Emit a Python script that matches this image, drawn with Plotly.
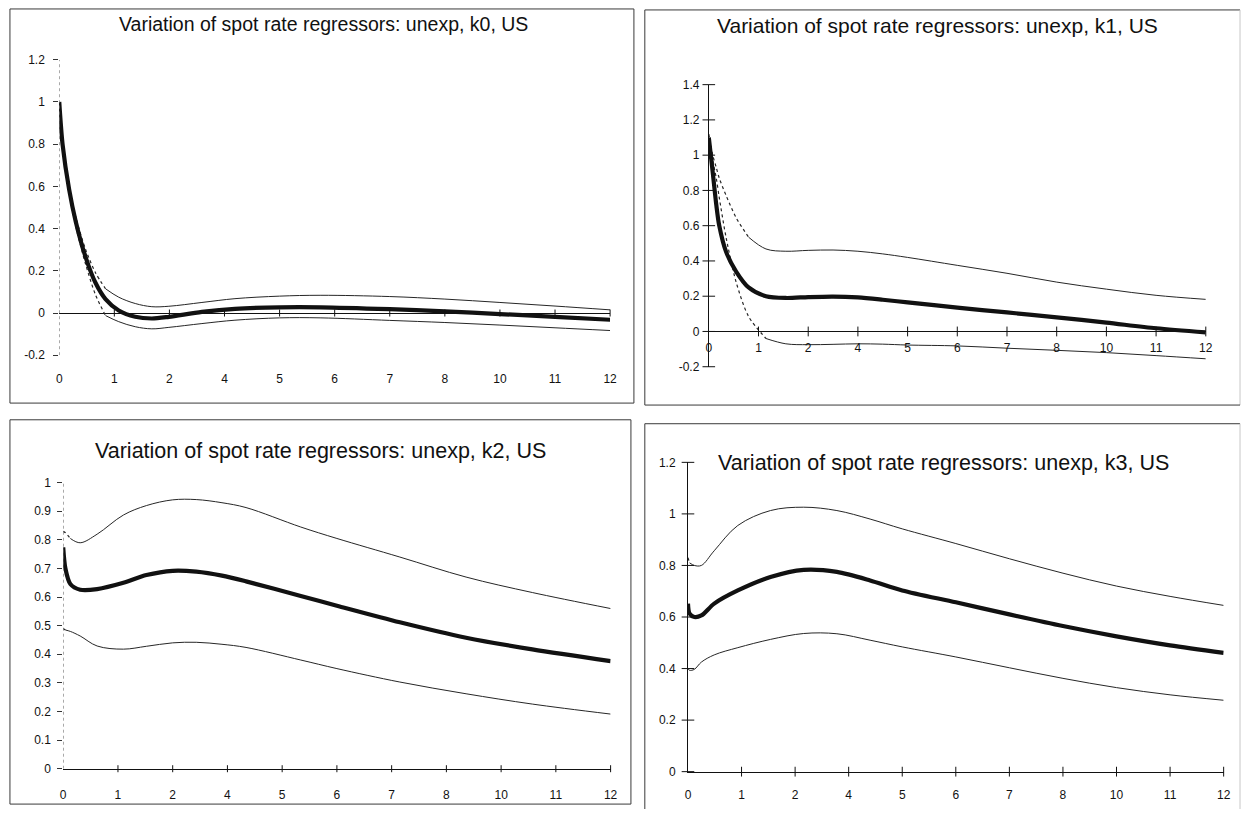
import plotly.graph_objects as go

W, H = 1249, 816

# ---------------- data ----------------
X_TICK_POS = [0, 1, 2, 3, 4, 5, 6, 7, 8, 9, 10]
X_TICK_TEXT = ["0", "1", "2", "4", "5", "6", "7", "8", "10", "11", "12"]

TITLES = [
    "Variation of spot rate regressors: unexp, k0, US",
    "Variation of spot rate regressors: unexp, k1, US",
    "Variation of spot rate regressors: unexp, k2, US",
    "Variation of spot rate regressors: unexp, k3, US",
]

K0_YTICKS = [-0.2, 0, 0.2, 0.4, 0.6, 0.8, 1, 1.2]
K1_YTICKS = [-0.2, 0, 0.2, 0.4, 0.6, 0.8, 1, 1.2, 1.4]
K2_YTICKS = [0, 0.1, 0.2, 0.3, 0.4, 0.5, 0.6, 0.7, 0.8, 0.9, 1]
K3_YTICKS = [0, 0.2, 0.4, 0.6, 0.8, 1, 1.2]

K0_X = [0, 0.06, 0.18, 0.30, 0.48, 0.66, 0.84, 1.08, 1.38, 1.68, 1.99, 2.59, 3.19, 4.0, 4.75, 6, 7, 8, 9, 10]
K0_EST = [1.0, 0.80, 0.585, 0.433, 0.264, 0.142, 0.066, 0.012, -0.018, -0.026, -0.018, 0.005, 0.02, 0.027, 0.027, 0.018, 0.008, -0.005, -0.018, -0.032]
K0_UPPER = [1.0, 0.81, 0.60, 0.455, 0.30, 0.19, 0.115, 0.075, 0.045, 0.03, 0.032, 0.05, 0.068, 0.08, 0.084, 0.078, 0.066, 0.05, 0.033, 0.015]
K0_LOWER = [1.0, 0.79, 0.57, 0.41, 0.23, 0.085, -0.012, -0.041, -0.065, -0.075, -0.068, -0.05, -0.034, -0.023, -0.023, -0.035, -0.045, -0.057, -0.07, -0.083]

K1_X = [0, 0.08, 0.15, 0.21, 0.35, 0.55, 0.8, 1.15, 1.55, 2.0, 2.5, 3.0, 3.5, 4.0, 5.0, 6.0, 7.0, 8.0, 9.0, 10.0]
K1_EST = [1.10, 0.90, 0.72, 0.60, 0.45, 0.34, 0.25, 0.20, 0.19, 0.195, 0.198, 0.193, 0.18, 0.165, 0.135, 0.108, 0.08, 0.05, 0.018, -0.005]
K1_UPPER = [1.12, 1.0, 0.93, 0.87, 0.77, 0.645, 0.535, 0.468, 0.455, 0.46, 0.462, 0.455, 0.44, 0.42, 0.375, 0.33, 0.28, 0.24, 0.205, 0.182]
K1_LOWER = [1.10, 0.97, 0.87, 0.76, 0.53, 0.28, 0.085, -0.04, -0.07, -0.075, -0.073, -0.07, -0.072, -0.077, -0.082, -0.095, -0.107, -0.12, -0.137, -0.155]

K2_X = [0, 0.04, 0.13, 0.31, 0.62, 1.1, 1.52, 2.0, 2.43, 2.9, 3.34, 4.34, 5, 6.15, 7.36, 8.57, 10]
K2_EST = [0.774, 0.70, 0.646, 0.626, 0.628, 0.65, 0.677, 0.692, 0.689, 0.675, 0.655, 0.604, 0.57, 0.512, 0.458, 0.417, 0.376]
K2_UPPER = [0.83, 0.825, 0.805, 0.79, 0.82, 0.887, 0.92, 0.94, 0.941, 0.93, 0.913, 0.845, 0.805, 0.74, 0.67, 0.616, 0.56]
K2_LOWER = [0.49, 0.485, 0.48, 0.464, 0.429, 0.418, 0.428, 0.44, 0.442, 0.435, 0.424, 0.38, 0.35, 0.303, 0.262, 0.226, 0.191]

K3_X = [0, 0.03, 0.12, 0.25, 0.49, 0.93, 1.54, 2.16, 2.78, 3.4, 4.0, 5.0, 6, 7, 8, 9, 10]
K3_EST = [0.652, 0.613, 0.60, 0.606, 0.652, 0.703, 0.755, 0.783, 0.775, 0.742, 0.703, 0.657, 0.61, 0.565, 0.525, 0.49, 0.461]
K3_UPPER = [0.83, 0.81, 0.80, 0.80, 0.857, 0.955, 1.013, 1.026, 1.013, 0.98, 0.942, 0.885, 0.826, 0.77, 0.72, 0.68, 0.645]
K3_LOWER = [0.40, 0.393, 0.397, 0.425, 0.453, 0.481, 0.513, 0.536, 0.535, 0.51, 0.484, 0.445, 0.403, 0.362, 0.326, 0.298, 0.277]

# ---------------- layout config (pixels) ----------------
# frame = (left, top, right, bottom, draw_right, draw_bottom)
PANELS = [
    dict(x=K0_X, est=K0_EST, up=K0_UPPER, lo=K0_LOWER, yt=K0_YTICKS, yr=(-0.2, 1.2),
         px0=56.7, px10=612.0, pytop=53.7, pybot=354.3, frame=(7, 2, 636, 403, True, True),
         title_xy=(323, 17), tsize=19.5, kind="open", up_cut=6, lo_cut=6, xstand=15, ystand=6),
    dict(x=K1_X, est=K1_EST, up=K1_UPPER, lo=K1_LOWER, yt=K1_YTICKS, yr=(-0.2, 1.4),
         px0=711.5, px10=1212.5, pytop=79.0, pybot=366.0, frame=(647, 3, 1247, 405, False, True),
         title_xy=(942, 19), tsize=21.0, kind="cross", up_cut=6, lo_cut=7, xstand=5, ystand=6),
    dict(x=K2_X, est=K2_EST, up=K2_UPPER, lo=K2_LOWER, yt=K2_YTICKS, yr=(0, 1),
         px0=60.7, px10=612.5, pytop=484.0, pybot=775.0, frame=(7, 420, 633, 811, True, True),
         title_xy=(320, 452), tsize=21.5, kind="open", up_cut=2, lo_cut=1, xstand=15, ystand=4),
    dict(x=K3_X, est=K3_EST, up=K3_UPPER, lo=K3_LOWER, yt=K3_YTICKS, yr=(0, 1.2),
         px0=690.5, px10=1230.5, pytop=463.3, pybot=778.0, frame=(647, 424, 1247, 816, False, False),
         title_xy=(948, 464), tsize=21.5, kind="cross", up_cut=1, lo_cut=0, xstand=12, ystand=9),
]

INK = "#111111"
THIN = "#262626"
FRAME = "#3a3a3a"
FAINT = "#c8c8c8"
FONT = "Liberation Sans, Arial, sans-serif"

fig = go.Figure()
layout = dict(width=W, height=H, margin=dict(l=0, r=0, t=0, b=0),
              paper_bgcolor="white", plot_bgcolor="white", showlegend=False,
              font=dict(family=FONT, color=INK))
shapes, annotations = [], []


def fmt(v):
    return f"{round(v, 2):g}"


def pline(x0, y0, x1, y1, color):
    return dict(type="line", xref="paper", yref="paper",
                x0=x0 / W, x1=x1 / W, y0=1 - y0 / H, y1=1 - y1 / H,
                line=dict(color=color, width=1))


for i, P in enumerate(PANELS, start=1):
    xa, ya = f"x{i}", f"y{i}"
    xd = [P["px0"] / W, P["px10"] / W]
    yd = [1 - P["pybot"] / H, 1 - P["pytop"] / H]
    ymin, ymax = P["yr"]
    zero_paper = yd[0] + (0 - ymin) / (ymax - ymin) * (yd[1] - yd[0])

    xs = P["x"]
    # confidence bands: dotted near the origin, solid afterwards
    for key, cut in (("up", P["up_cut"]), ("lo", P["lo_cut"])):
        ys = P[key]
        if cut > 0:
            fig.add_trace(go.Scatter(x=xs[:cut + 1], y=ys[:cut + 1], mode="lines",
                                     line=dict(color=THIN, width=1.2, dash="dot", shape="spline", smoothing=0.8),
                                     xaxis=xa, yaxis=ya, hoverinfo="skip"))
        fig.add_trace(go.Scatter(x=xs[cut:], y=ys[cut:], mode="lines",
                                 line=dict(color=THIN, width=1, shape="spline", smoothing=1.0),
                                 xaxis=xa, yaxis=ya, hoverinfo="skip"))
    # estimate
    fig.add_trace(go.Scatter(x=xs, y=P["est"], mode="lines",
                             line=dict(color=INK, width=4.2, shape="spline", smoothing=0.8),
                             xaxis=xa, yaxis=ya, hoverinfo="skip"))

    # tick marks crossing the axes
    xt = X_TICK_POS[1:]
    fig.add_trace(go.Scatter(x=xt, y=[0] * len(xt), mode="markers", cliponaxis=False,
                             marker=dict(symbol="line-ns", size=7 if P["kind"] == "cross" else 5,
                                         line=dict(color=INK, width=1)),
                             xaxis=xa, yaxis=ya, hoverinfo="skip"))
    if P["kind"] == "cross":
        fig.add_trace(go.Scatter(x=[0] * len(P["yt"]), y=P["yt"], mode="markers", cliponaxis=False,
                                 marker=dict(symbol="line-ew", size=9, line=dict(color=INK, width=1)),
                                 xaxis=xa, yaxis=ya, hoverinfo="skip"))

    xkey = "xaxis" if i == 1 else f"xaxis{i}"
    ykey = "yaxis" if i == 1 else f"yaxis{i}"
    xaxis = dict(domain=xd, range=[0, 10], tickmode="array", tickvals=X_TICK_POS,
                 ticktext=X_TICK_TEXT, showgrid=False, zeroline=False, ticks="",
                 ticklabelstandoff=P["xstand"], tickfont=dict(size=12, color=INK, family=FONT),
                 fixedrange=True)
    yaxis = dict(domain=yd, range=[ymin, ymax], tickmode="array", tickvals=P["yt"],
                 ticktext=[fmt(v) for v in P["yt"]], showgrid=False,
                 ticklabelstandoff=P["ystand"], tickfont=dict(size=12, color=INK, family=FONT),
                 fixedrange=True, anchor=xa)
    if i == 2:
        xaxis.update(anchor="free", position=zero_paper, showline=True, linecolor=INK, linewidth=1)
    else:
        xaxis.update(anchor=ya)
        if P["kind"] == "cross" or i == 3:
            xaxis.update(showline=True, linecolor=INK, linewidth=1)
    if P["kind"] == "cross":
        yaxis.update(showline=True, linecolor=INK, linewidth=1, ticks="", zeroline=False)
    else:
        yaxis.update(showline=False, ticks="outside", ticklen=5, tickcolor="#333", tickwidth=1,
                     zeroline=(i == 1), zerolinecolor=INK, zerolinewidth=1)
        shapes.append(dict(type="line", xref=xa, yref=ya, x0=0, x1=0, y0=ymin, y1=ymax,
                           line=dict(color="#666", width=1, dash="dot")))
    layout[xkey] = xaxis
    layout[ykey] = yaxis

    fx0, fy0, fx1, fy1, draw_r, draw_b = P["frame"]
    shapes.append(pline(fx0, fy0, fx1, fy0, FRAME))
    shapes.append(pline(fx0, fy0, fx0, fy1, FRAME))
    shapes.append(pline(fx1, fy0, fx1, fy1, FRAME if draw_r else FAINT))
    if draw_b:
        shapes.append(pline(fx0, fy1, fx1, fy1, FRAME))
    tx, ty = P["title_xy"]
    annotations.append(dict(text=TITLES[i - 1], xref="paper", yref="paper",
                            x=tx / W, y=1 - ty / H, xanchor="center", yanchor="middle",
                            showarrow=False, font=dict(size=P["tsize"], family=FONT, color=INK)))

layout["shapes"] = shapes
layout["annotations"] = annotations
fig.update_layout(**layout)
fig.write_html("out.html")
